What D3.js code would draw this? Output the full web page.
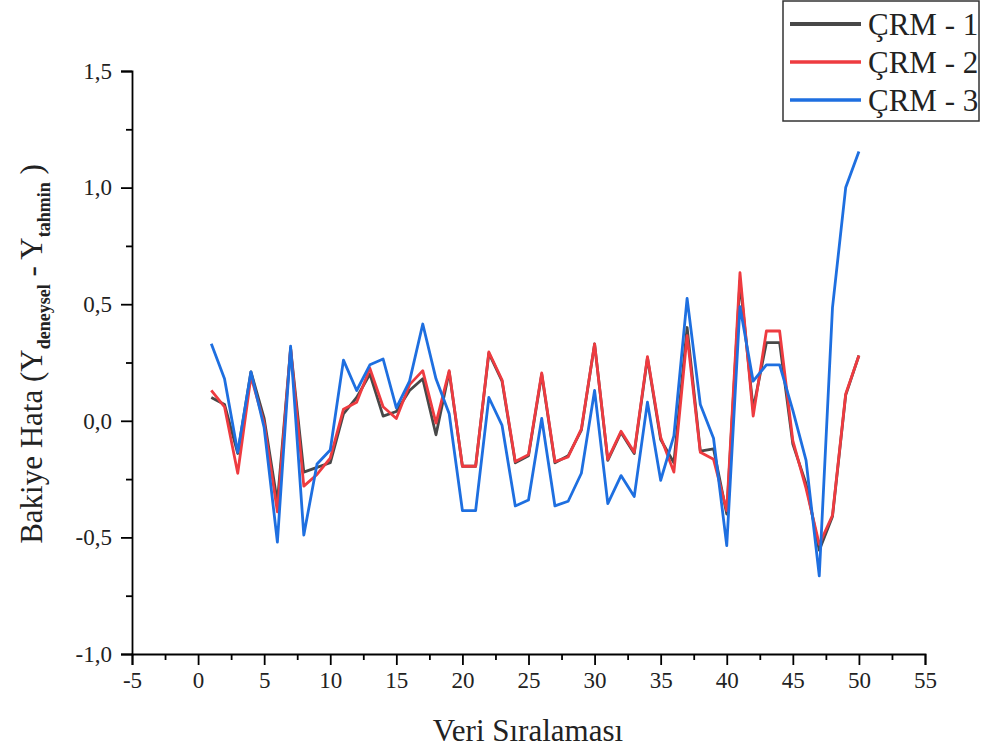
<!DOCTYPE html>
<html>
<head>
<meta charset="utf-8">
<script src="https://cdn.jsdelivr.net/npm/d3@7"></script>
<style>
  body { margin: 0; background: #fff; }
  svg { font-family: "Liberation Serif", "Times New Roman", serif; }
</style>
</head>
<body>
<div id="chart"></div>
<script>
// data
const seriesNames = ["ÇRM - 1", "ÇRM - 2", "ÇRM - 3"];
const seriesColors = ["#484848", "#ee3b40", "#1e6fe0"];

const idx = d3.range(1, 51);

const crm1 = [0.10, 0.07, -0.14, 0.21, 0.01, -0.35, 0.31, -0.22, -0.20, -0.18,
  0.03, 0.10, 0.20, 0.02, 0.04, 0.13, 0.18, -0.06, 0.21, -0.195,
  -0.195, 0.29, 0.17, -0.18, -0.15, 0.20, -0.18, -0.15, -0.04, 0.33,
  -0.17, -0.05, -0.14, 0.27, -0.08, -0.18, 0.40, -0.13, -0.12, -0.40,
  0.60, 0.05, 0.335, 0.335, -0.10, -0.27, -0.555, -0.41, 0.11, 0.28];

const crm2 = [0.13, 0.06, -0.225, 0.19, -0.01, -0.39, 0.31, -0.28, -0.23, -0.16,
  0.05, 0.08, 0.225, 0.06, 0.01, 0.155, 0.215, -0.01, 0.215, -0.195,
  -0.195, 0.295, 0.175, -0.175, -0.145, 0.205, -0.175, -0.155, -0.035, 0.33,
  -0.165, -0.045, -0.135, 0.275, -0.07, -0.22, 0.365, -0.135, -0.165, -0.385,
  0.635, 0.02, 0.385, 0.385, -0.085, -0.29, -0.53, -0.405, 0.115, 0.28];

const crm3 = [0.33, 0.18, -0.135, 0.21, -0.03, -0.52, 0.32, -0.49, -0.185, -0.125,
  0.26, 0.13, 0.24, 0.265, 0.055, 0.17, 0.415, 0.18, 0.03, -0.385,
  -0.385, 0.10, -0.02, -0.365, -0.34, 0.01, -0.365, -0.345, -0.225, 0.13,
  -0.355, -0.235, -0.325, 0.08, -0.255, -0.065, 0.525, 0.07, -0.075, -0.535,
  0.49, 0.17, 0.24, 0.24, 0.045, -0.17, -0.665, 0.485, 1.0, 1.155];

const xTicks = d3.range(-5, 56, 5);
const yTicks = [-1.0, -0.5, 0.0, 0.5, 1.0, 1.5];

const W = 981, H = 749;
const svg = d3.select("#chart").append("svg")
  .attr("width", W).attr("height", H);

const x = d3.scaleLinear().domain([-5, 55]).range([132, 925]);
const y = d3.scaleLinear().domain([-1, 1.5]).range([654, 71]);

// plain hyphen for minus, comma as decimal mark
const fmt = v => v.toFixed(1).replace(".", ",");

// x axis, major + minor ticks
svg.append("g")
  .attr("transform", `translate(0,${y(-1)})`)
  .call(d3.axisBottom(x).tickValues(xTicks).tickSize(11).tickPadding(7).tickFormat(d => String(d)));
svg.append("g")
  .attr("transform", `translate(0,${y(-1)})`)
  .call(d3.axisBottom(x).tickValues(xTicks.slice(0, -1).map(d => d + 2.5)).tickSize(6).tickFormat(""))
  .select(".domain").remove();

// y axis
svg.append("g")
  .attr("transform", `translate(${x(-5)},0)`)
  .call(d3.axisLeft(y).tickValues(yTicks).tickSize(11).tickPadding(9).tickFormat(fmt));
svg.append("g")
  .attr("transform", `translate(${x(-5)},0)`)
  .call(d3.axisLeft(y).tickValues(yTicks.slice(0, -1).map(d => d + 0.25)).tickSize(6).tickFormat(""))
  .select(".domain").remove();

svg.selectAll(".domain").attr("stroke", "#000").attr("stroke-width", 1.8);
svg.selectAll(".tick line").attr("stroke", "#000").attr("stroke-width", 1.8);
svg.selectAll(".tick text")
  .attr("fill", "#222")
  .style("font-family", "'Liberation Serif', serif")
  .style("font-size", "23px");

// axis titles
svg.append("text")
  .attr("x", 528).attr("y", 741)
  .attr("text-anchor", "middle")
  .attr("fill", "#222")
  .style("font-size", "31px")
  .text("Veri Sıralaması");

const yt = svg.append("text")
  .attr("transform", `translate(42,354) rotate(-90)`)
  .attr("text-anchor", "middle")
  .attr("fill", "#222")
  .style("font-size", "31px");
yt.append("tspan").text("Bakiye Hata (Y");
yt.append("tspan").attr("dy", 8).style("font-size", "18px").style("font-weight", "bold").text("deneysel");
yt.append("tspan").attr("dy", -8).text(" - Y");
yt.append("tspan").attr("dy", 8).style("font-size", "18px").style("font-weight", "bold").text("tahmin");
yt.append("tspan").attr("dy", -8).text(" )");

// lines
const line = d3.line()
  .x((d, i) => x(idx[i]))
  .y(d => y(d));

[crm1, crm2, crm3].forEach((s, k) => {
  svg.append("path")
    .datum(s)
    .attr("fill", "none")
    .attr("stroke", seriesColors[k])
    .attr("stroke-width", 2.8)
    .attr("stroke-linejoin", "round")
    .attr("d", line);
});

// legend
const lg = svg.append("g").attr("transform", "translate(783,1)");
lg.append("rect")
  .attr("width", 196).attr("height", 120)
  .attr("fill", "#fff")
  .attr("stroke", "#333").attr("stroke-width", 1.5);
seriesNames.forEach((n, k) => {
  const yy = 23 + k * 38;
  lg.append("line")
    .attr("x1", 7).attr("x2", 78)
    .attr("y1", yy).attr("y2", yy)
    .attr("stroke", seriesColors[k])
    .attr("stroke-width", k == 0 ? 4 : 3.5);
  lg.append("text")
    .attr("x", 85).attr("y", yy + 11)
    .attr("fill", "#222")
    .style("font-size", "31px")
    .text(n);
});
</script>
</body>
</html>
